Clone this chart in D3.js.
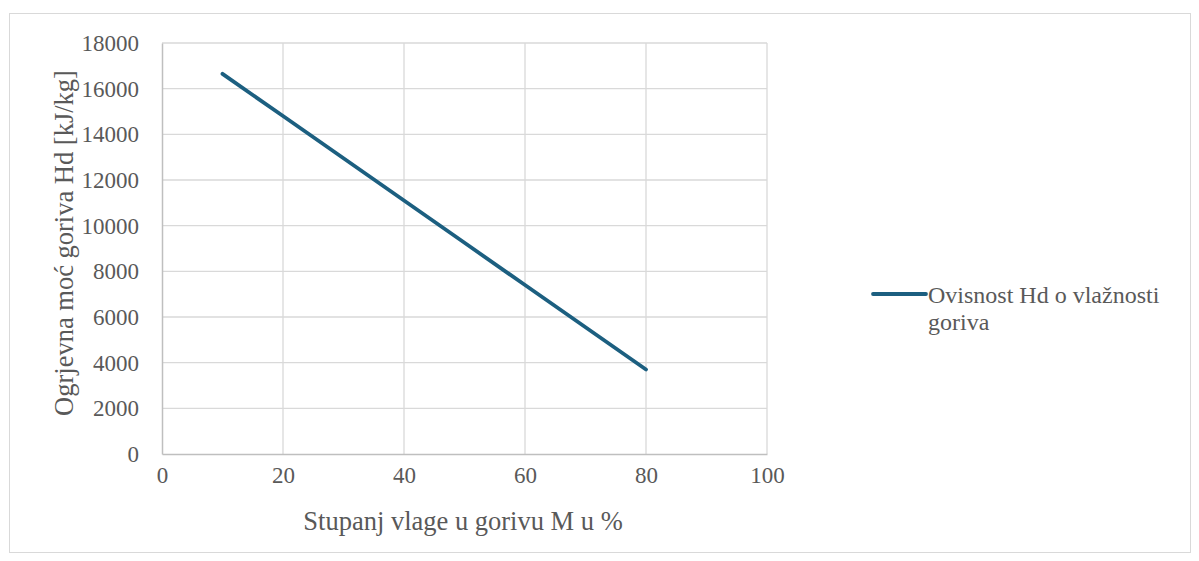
<!DOCTYPE html>
<html>
<head>
<meta charset="utf-8">
<script src="https://cdn.jsdelivr.net/npm/d3@7"></script>
<style>
  html, body { margin: 0; padding: 0; background: #fff; }
  svg { display: block; }
</style>
</head>
<body>
<svg id="chart" width="1199" height="561"></svg>
<script>
// Data
const moisture = [10, 20, 30, 40, 50, 60, 70, 80];
const heatingValue = [16650, 14800, 12950, 11100, 9250, 7400, 5550, 3700];
const xTicks = [0, 20, 40, 60, 80, 100];
const yTicks = [0, 2000, 4000, 6000, 8000, 10000, 12000, 14000, 16000, 18000];
const seriesName = ["Ovisnost Hd o vlažnosti", "goriva"];
const xTitle = "Stupanj vlage u gorivu M u %";
const yTitle = "Ogrjevna moć goriva Hd [kJ/kg]";

const FONT = "Liberation Serif, Times New Roman, serif";
const TXT = "#595959";

const svg = d3.select("#chart");
const plot = { left: 162, right: 767, top: 43, bottom: 454 };
const lineColor = "#1c5f80";
const gridColor = "#d9d9d9";

// outer border
svg.append("rect")
  .attr("x", 9.5).attr("y", 13.5)
  .attr("width", 1181).attr("height", 539)
  .attr("fill", "#fff").attr("stroke", "#d9d9d9").attr("stroke-width", 1);

const x = d3.scaleLinear().domain([0, 100]).range([plot.left, plot.right]);
const y = d3.scaleLinear().domain([0, 18000]).range([plot.bottom, plot.top]);

// gridlines
const grid = svg.append("g");
grid.selectAll("line.h").data(yTicks.filter(d => d > 0)).enter().append("line")
  .attr("x1", plot.left).attr("x2", plot.right)
  .attr("y1", d => y(d)).attr("y2", d => y(d))
  .attr("stroke", gridColor).attr("stroke-width", 1.3);
grid.selectAll("line.v").data(xTicks.filter(d => d > 0)).enter().append("line")
  .attr("x1", d => x(d)).attr("x2", d => x(d))
  .attr("y1", plot.top).attr("y2", plot.bottom)
  .attr("stroke", gridColor).attr("stroke-width", 1.3);

// axes
const xAxis = d3.axisBottom(x).tickValues(xTicks).tickSize(0).tickPadding(13).tickFormat(d3.format("d"));
const yAxis = d3.axisLeft(y).tickValues(yTicks).tickSize(0).tickPadding(23).tickFormat(d3.format("d"));

const gx = svg.append("g").attr("transform", `translate(0,${plot.bottom})`).call(xAxis)
  .attr("font-family", FONT).attr("font-size", 23);
gx.select(".domain").attr("stroke", "#bfbfbf").attr("stroke-width", 1.5);
gx.selectAll("text").attr("fill", TXT);

const gy = svg.append("g").attr("transform", `translate(${plot.left},0)`).call(yAxis)
  .attr("font-family", FONT).attr("font-size", 23);
gy.select(".domain").attr("stroke", "#bfbfbf").attr("stroke-width", 1.5);
gy.selectAll("text").attr("fill", TXT);

// axis titles
svg.append("text")
  .attr("x", 463).attr("y", 530)
  .attr("text-anchor", "middle")
  .attr("font-family", FONT).attr("font-size", 26.5).attr("fill", TXT)
  .text(xTitle);
svg.append("text")
  .attr("transform", `translate(73,243) rotate(-90)`)
  .attr("text-anchor", "middle")
  .attr("font-family", FONT).attr("font-size", 26.5).attr("fill", TXT)
  .text(yTitle);

// series line
const data = moisture.map((m, i) => ({ m, v: heatingValue[i] }));
svg.append("path").datum(data)
  .attr("fill", "none").attr("stroke", lineColor).attr("stroke-width", 3.8)
  .attr("stroke-linecap", "round").attr("stroke-linejoin", "round")
  .attr("d", d3.line().x(d => x(d.m)).y(d => y(d.v)));

// legend
const lg = svg.append("g");
lg.append("line").attr("x1", 873).attr("x2", 926).attr("y1", 294).attr("y2", 294)
  .attr("stroke", lineColor).attr("stroke-width", 3.8).attr("stroke-linecap", "round");
const lt = lg.append("text").attr("x", 928).attr("y", 303)
  .attr("font-family", FONT).attr("font-size", 24).attr("fill", TXT);
seriesName.forEach((s, i) => {
  lt.append("tspan").attr("x", 928).attr("dy", i === 0 ? 0 : 27).text(s);
});
</script>
</body>
</html>
